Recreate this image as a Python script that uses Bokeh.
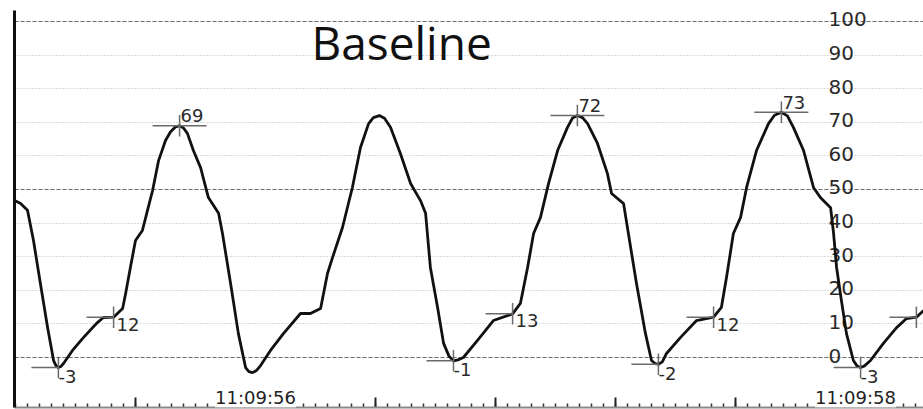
from bokeh.plotting import figure
from bokeh.models import FixedTicker, Grid, Label, Range1d
from bokeh.core.properties import value
from bokeh.embed import file_html
from bokeh.resources import INLINE

# ---- data (time in seconds after 11:09:00, pressure in mmHg) ----
time_s = [55.197, 55.217, 55.240, 55.260, 55.283, 55.307, 55.327, 55.335, 55.343, 55.351,
          55.360, 55.390, 55.427, 55.473, 55.493, 55.527, 55.557, 55.567, 55.583, 55.600,
          55.623, 55.640, 55.657, 55.677, 55.700, 55.717, 55.733, 55.747, 55.760, 55.773,
          55.793, 55.817, 55.843, 55.877, 55.890, 55.917, 55.943, 55.967, 55.978, 55.990,
          56.003, 56.017, 56.050, 56.093, 56.150, 56.183, 56.217, 56.240, 56.257, 56.290,
          56.323, 56.350, 56.377, 56.393, 56.413, 56.430, 56.450, 56.483, 56.517, 56.550,
          56.567, 56.583, 56.607, 56.627, 56.645, 56.660, 56.675, 56.693, 56.740, 56.793,
          56.857, 56.883, 56.907, 56.927, 56.950, 56.977, 57.007, 57.040, 57.057, 57.073,
          57.090, 57.107, 57.140, 57.173, 57.187, 57.227, 57.243, 57.270, 57.300, 57.320,
          57.332, 57.343, 57.356, 57.370, 57.417, 57.470, 57.527, 57.553, 57.570, 57.593,
          57.617, 57.637, 57.670, 57.710, 57.730, 57.753, 57.773, 57.793, 57.827, 57.860,
          57.883, 57.917, 57.927, 57.937, 57.953, 57.970, 57.993, 58.005, 58.017, 58.030,
          58.050, 58.093, 58.137, 58.170, 58.203, 58.227]
pressure = [46.7, 45.8, 43.8, 34.8, 22.0, 8.9, -0.9, -2.4, -3.0, -2.7,
            -1.8, 2.1, 6.0, 10.4, 11.9, 12.0, 14.6, 19.0, 26.8, 34.8,
            37.8, 43.8, 49.7, 58.6, 64.6, 67.2, 68.6, 69.0, 68.3, 66.7,
            61.6, 56.5, 47.6, 42.9, 36.9, 22.0, 7.1, -3.0, -4.2, -4.5,
            -3.9, -2.4, 2.1, 7.1, 13.1, 13.1, 14.6, 25.0, 29.8, 38.7,
            50.6, 62.5, 69.6, 71.4, 72.0, 71.2, 68.5, 60.7, 51.8, 46.7,
            42.9, 26.8, 14.9, 4.2, 0.4, -1.0, -0.7, 0.0, 5.1, 11.0,
            13.0, 16.1, 26.8, 36.9, 41.7, 51.8, 61.6, 68.5, 71.3, 72.0,
            71.4, 69.6, 63.7, 54.8, 48.8, 45.8, 36.9, 22.0, 7.1, -0.9,
            -1.8, -2.0, -1.3, 1.2, 6.0, 11.0, 12.0, 14.9, 23.8, 36.9,
            41.7, 50.6, 61.6, 69.6, 72.1, 73.0, 71.9, 68.5, 61.6, 50.6,
            47.6, 44.6, 36.9, 26.8, 17.0, 7.1, -0.9, -2.5, -3.0, -2.5,
            -0.9, 4.2, 8.9, 11.6, 12.0, 14.0]

peak_t = [55.747, 57.073, 57.753]
peak_v = [69, 72, 73]
peak_labels = ["69", "72", "73"]

trough_t = [55.343, 56.660, 57.343, 58.017]
trough_v = [-3, -1, -2, -3]
trough_labels = ["-3", "-1", "-2", "-3"]

notch_t = [55.527, 56.857, 57.527, 58.203]
notch_v = [12, 13, 12, 12]
notch_labels = ["12", "13", "12", ""]

y_ticks = [0, 10, 20, 30, 40, 50, 60, 70, 80, 90, 100]
y_major_ticks = [0, 50, 100]
y_tick_labels = ["0", "10", "20", "30", "40", "50", "60", "70", "80", "90", "100"]

time_major_ticks = [55.6, 56.0, 56.4, 56.8, 57.2, 57.6, 58.0]
time_minor_ticks = [round(55.2 + 0.04 * i, 2) for i in range(76)]
time_label_t = [56.0, 58.0]
time_labels = ["11:09:56", "11:09:58"]

title_text = "Baseline"

# ---- layout constants ----
X0, X1 = 55.1967, 58.2267
Y0, Y1 = -14.88, 103.27
HW = 0.09      # half width of crosshair (s)
HH = 3.2       # half height of crosshair (mmHg)
MAJ_LEN = 3.0  # tick lengths (mmHg units, ~10px / ~4px)
MIN_LEN = 1.2
LABEL_T = 57.91
num_font = value("DejaVu Sans")

p = figure(width=923, height=409, output_backend="svg", toolbar_location=None,
           x_range=Range1d(X0, X1), y_range=Range1d(Y0, Y1),
           min_border_left=14, min_border_top=10, min_border_right=0, min_border_bottom=2,
           background_fill_color="white", border_fill_color="white",
           outline_line_color=None)

# axes: lines only
p.xaxis.ticker = FixedTicker(ticks=[])
p.xaxis.axis_line_color = "#8a8a8a"
p.xaxis.axis_line_width = 2
p.xaxis.major_tick_line_color = None
p.xaxis.minor_tick_line_color = None
p.xgrid.visible = False

p.yaxis.ticker = FixedTicker(ticks=[])
p.yaxis.axis_line_color = "#111111"
p.yaxis.axis_line_width = 3
p.yaxis.major_tick_line_color = None
p.yaxis.minor_tick_line_color = None

p.ygrid.ticker = FixedTicker(ticks=y_ticks)
p.ygrid.grid_line_color = "#b8b8b8"
p.ygrid.grid_line_dash = "1 2"
p.ygrid.grid_line_width = 1
p.add_layout(Grid(dimension=1, ticker=FixedTicker(ticks=y_major_ticks),
                  grid_line_color="#707070", grid_line_dash="4 2", grid_line_width=1.2))

# time ticks drawn upward from the bottom edge
p.segment(x0=time_minor_ticks, y0=[Y0] * len(time_minor_ticks),
          x1=time_minor_ticks, y1=[Y0 + MIN_LEN] * len(time_minor_ticks),
          line_color="#333333", line_width=1.5)
p.segment(x0=time_major_ticks, y0=[Y0] * len(time_major_ticks),
          x1=time_major_ticks, y1=[Y0 + MAJ_LEN] * len(time_major_ticks),
          line_color="#222222", line_width=2)

# y tick labels drawn inside the plot on the right
p.text(x=[LABEL_T] * len(y_ticks), y=y_ticks, text=y_tick_labels,
       text_font=num_font, text_font_size="20px", text_color="#2a2a2a",
       text_align="left", text_baseline="alphabetic", y_offset=-2)

# waveform
p.line(time_s, pressure, line_color="#111111", line_width=2.8, line_join="round")

# crosshair markers
gray = "#6a6a6a"
p.segment(x0=[t - HW for t in peak_t], y0=peak_v, x1=[t + HW for t in peak_t], y1=peak_v,
          line_color=gray, line_width=1.5)
p.segment(x0=peak_t, y0=[v - HH for v in peak_v], x1=peak_t, y1=[v + HH for v in peak_v],
          line_color=gray, line_width=1.5)
for ts, vs in ((trough_t, trough_v), (notch_t, notch_v)):
    p.segment(x0=[t - HW for t in ts], y0=vs, x1=ts, y1=vs, line_color=gray, line_width=1.5)
    p.segment(x0=ts, y0=[v - HH for v in vs], x1=ts, y1=[v + HH for v in vs],
              line_color=gray, line_width=1.5)

p.text(x=peak_t, y=peak_v, text=peak_labels, text_font=num_font, text_font_size="18px",
       text_color="#2a2a2a", text_align="left", text_baseline="alphabetic",
       x_offset=1, y_offset=-10)
p.text(x=trough_t, y=trough_v, text=trough_labels, text_font=num_font, text_font_size="18px",
       text_color="#2a2a2a", text_align="left", text_baseline="alphabetic",
       x_offset=0, y_offset=9)
p.text(x=notch_t, y=notch_v, text=notch_labels, text_font=num_font, text_font_size="18px",
       text_color="#2a2a2a", text_align="left", text_baseline="alphabetic",
       x_offset=3, y_offset=7)

# time labels at bottom (inside plot, covering the ticks beneath)
for t, lab in zip(time_label_t, time_labels):
    p.add_layout(Label(x=t, y=-11.8, text=lab, text_align="center",
                       text_baseline="alphabetic", text_font="DejaVu Sans",
                       text_font_size="18px", text_color="#222222",
                       background_fill_color="white"))

p.add_layout(Label(x=56.487, y=93.75, text=title_text, text_align="center",
                   text_baseline="alphabetic", text_font="Open Sans",
                   text_font_size="46px", text_color="#111111"))

open("out.html", "w").write(file_html(p, INLINE))
